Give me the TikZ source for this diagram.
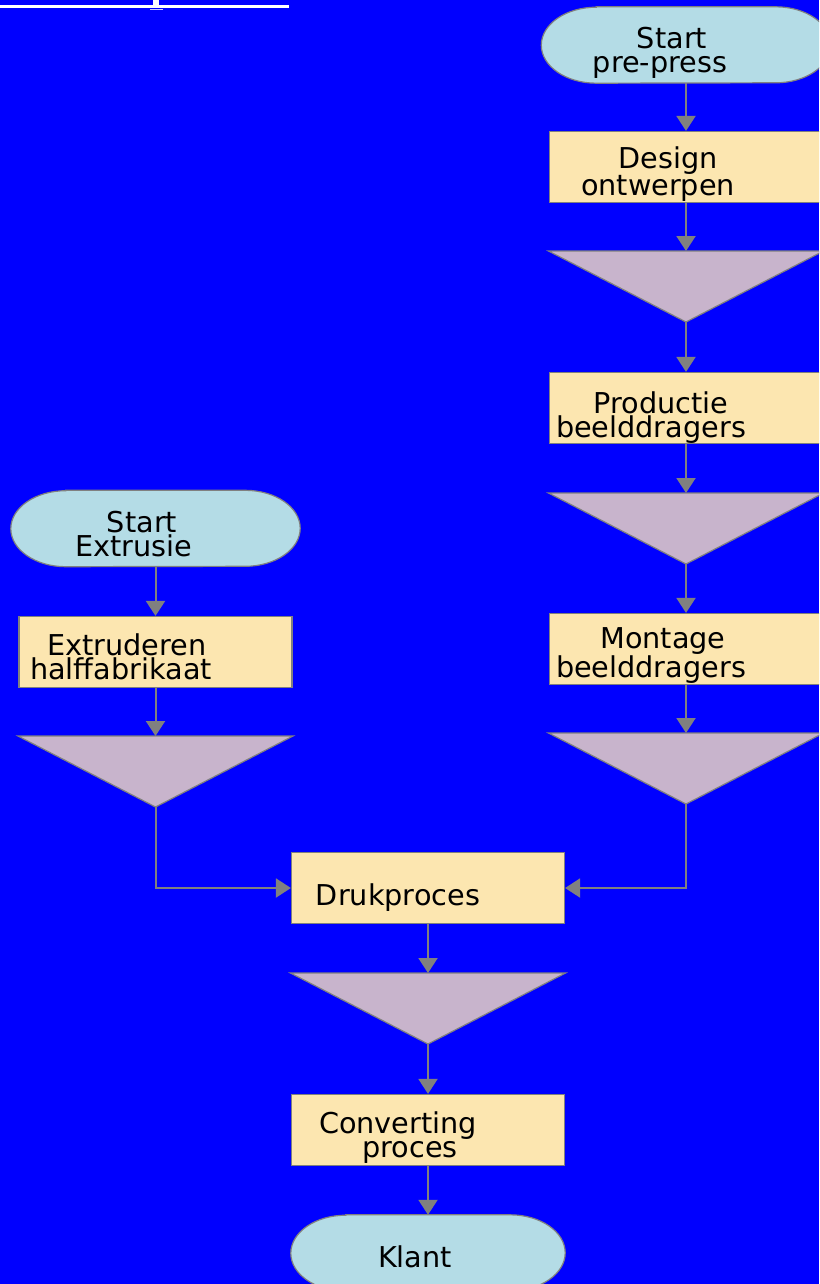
\documentclass[tikz,border=0pt]{standalone}
\usepackage{fontspec}
\setmainfont{DejaVu Sans}
\usetikzlibrary{arrows.meta}
\definecolor{bgblue}{RGB}{0,0,255}
\definecolor{startfill}{RGB}{180,220,230}
\definecolor{procfill}{RGB}{252,230,176}
\definecolor{mergefill}{RGB}{200,180,204}
\definecolor{edgegray}{RGB}{128,128,128}
\tikzset{
  terminal/.style={rectangle, minimum width=289pt, minimum height=76pt, inner sep=0pt},
  termshape/.style={draw=edgegray, fill=startfill, line width=1.2pt},
  procbox/.style={rectangle, draw=edgegray, fill=procfill, line width=1.2pt,
    minimum width=273pt, minimum height=71pt, inner sep=0pt},
  mergetri/.style={draw=edgegray, fill=mergefill, line width=1.2pt},
  flow/.style={draw=edgegray, line width=2pt, -{Triangle[width=19pt,length=15pt]}},
  lbl/.style={align=center, inner sep=0pt, anchor=base, font=\fontsize{28.7}{24}\selectfont}
}
% terminal with elliptic ends: name, x, y, width
\newcommand\terminalnode[4]{%
  \node[terminal, minimum width=#4pt] (#1) at (#2,#3) {};
  \draw[termshape] ([xshift=55pt]#1.north west) -- ([xshift=-55pt]#1.north east)
    arc[start angle=90, end angle=-90, x radius=55pt, y radius=38pt]
    -- ([xshift=55pt]#1.south west)
    arc[start angle=270, end angle=90, x radius=55pt, y radius=38pt] -- cycle;}
% inverted triangle: name, x, top y
\newcommand\mergetriangle[3]{%
  \draw[mergetri] (#2-137.5,#3) -- (#2+137.5,#3) -- (#2,#3+71) -- cycle;
  \coordinate (#1-top) at (#2,#3);
  \coordinate (#1-tip) at (#2,#3+71);}
\begin{document}
\begin{tikzpicture}[x=1pt,y=-1pt]
\useasboundingbox (0,0) rectangle (819,1284);
\clip (0,0) rectangle (819,1284);
\fill[bgblue] (0,0) rectangle (819,1284);
% cut-off title at the top
\draw[white, line width=2.5pt] (0,6.3) -- (289,6.3);
\fill[white] (152.7,0) rectangle (158.7,8.5);
\fill[white!80!bgblue] (150,9) rectangle (163,10.5);

% pre-press column
\terminalnode{prepress}{686}{45}{289}
\node[procbox] (design) at (686,167) {};
\mergetriangle{m1}{686}{251}
\node[procbox] (productie) at (686,408) {};
\mergetriangle{m2}{686}{493}
\node[procbox] (montage) at (686,649) {};
\mergetriangle{m3}{686}{733}

% extrusie column
\terminalnode{extrusie}{155.5}{528.5}{289}
\node[procbox] (extruderen) at (155.5,652) {};
\mergetriangle{m4}{155.5}{736}

% printing and converting
\node[procbox] (druk) at (428,888) {};
\mergetriangle{m5}{428}{973}
\node[procbox] (converting) at (428,1130) {};
\terminalnode{klant}{428}{1253}{274}

% connectors
\draw[flow] (prepress) -- (design);
\draw[flow] (design) -- (m1-top);
\draw[flow] (m1-tip) -- (productie);
\draw[flow] (productie) -- (m2-top);
\draw[flow] (m2-tip) -- (montage);
\draw[flow] (montage) -- (m3-top);
\draw[flow] (extrusie) -- (extruderen);
\draw[flow] (extruderen) -- (m4-top);
\draw[flow] (m4-tip) |- (druk);
\draw[flow] (m3-tip) |- (druk);
\draw[flow] (druk) -- (m5-top);
\draw[flow] (m5-tip) -- (converting);
\draw[flow] (converting) -- (klant);

% labels (base = last line)
\node[lbl] (prepress-text) at (660,73) {\hspace*{24pt}Start\\pre-press};
\node[lbl] (design-text) at (658,196) {\hspace*{20pt}Design\\ontwerpen};
\node[lbl] (productie-text) at (651,437) {\hspace*{20pt}Productie\\beelddragers};
\node[lbl] (montage-text) at (651,677) {\hspace*{24pt}Montage\\beelddragers};
\node[lbl] (extrusie-text) at (134,556) {\hspace*{16pt}Start\\Extrusie};
\node[lbl] (extruderen-text) at (121,679) {\hspace*{12pt}Extruderen\\halffabrikaat};
\node[lbl] (druk-text) at (398,905) {Drukproces};
\node[lbl] (converting-text) at (398,1157) {Converting\\\hspace*{24pt}proces};
\node[lbl] (klant-text) at (415,1267) {Klant};
\end{tikzpicture}
\end{document}
